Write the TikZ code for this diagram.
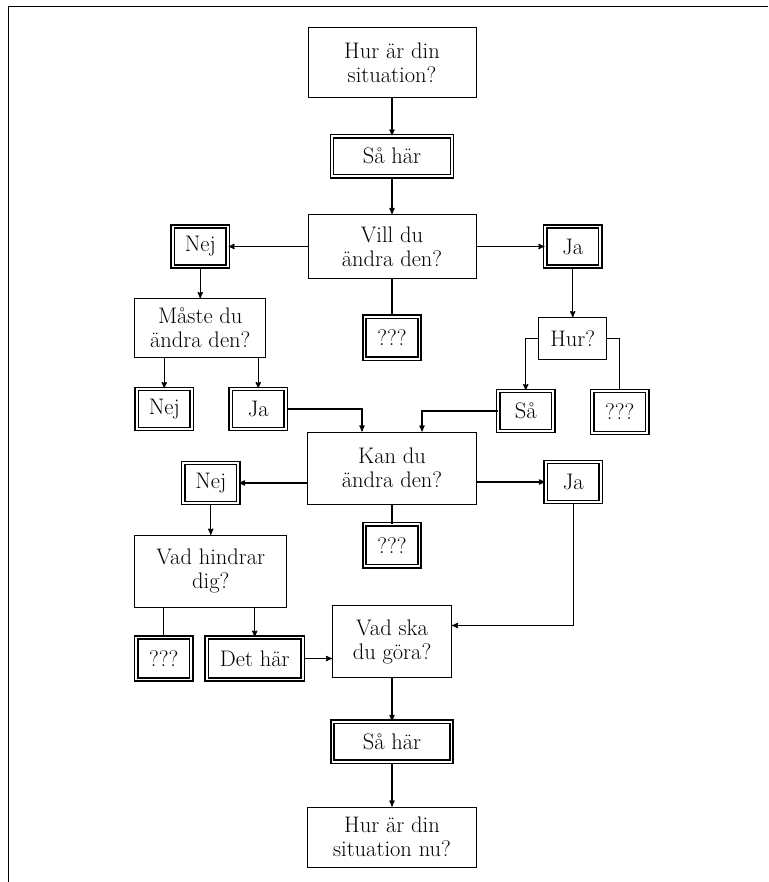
\documentclass[tikz,border=0pt]{standalone}
\usepackage{fontspec}
\usepackage{tikz}
\usetikzlibrary{arrows,calc,positioning}

\begin{document}
\begin{tikzpicture}[>=stealth', semithick, x=1pt, y=-1pt, line width=1.2pt]

    \tikzstyle{fraga} = [rectangle, draw=black, line width=1pt, minimum width=168pt, minimum height=64pt, inner sep=2pt, align=center, font=\fontsize{22.5}{24}\selectfont]
    \tikzstyle{svar} = [rectangle, draw=black, double, double distance=1.8pt, line width=1.5pt, minimum width=55pt, minimum height=40pt, inner sep=2pt, font=\fontsize{22.5}{24}\selectfont]

    \useasboundingbox (0,0) rectangle (768,882);
    \draw[line width=1pt] (768,7) -- (8,7) -- (8,882);

    \node (hur)         [fraga, minimum height=70pt] at (392,63)        {Hur är din\\situation?};
    \node (saahar1)     [svar, minimum width=120pt, below=37pt of hur]  {Så här};
    \node (vill)        [fraga, below=37pt of saahar1]                  {Vill du\\ändra den?};
    \node (nej1)        [svar, left=79pt of vill]                       {Nej};
    \node (ja1)         [svar, right=68pt of vill]                      {Ja};
    \node (fraga1)      [svar, minimum height=42pt, below=37pt of vill] {???};

    \node (maste)       [fraga, minimum width=131pt, minimum height=59pt, below=31pt of nej1] {Måste du\\ändra den?};
    \node (nej2)        [svar, below=30pt of maste, xshift=-36pt]       {Nej};
    \node (ja2)         [svar, below=30pt of maste, xshift=58pt]        {Ja};

    \node (hurfraga)    [fraga, minimum width=68pt, minimum height=42pt, below=50pt of ja1] {Hur?};
    \node (saa)         [svar, below=30pt of hurfraga, xshift=-47pt]    {Så};
    \node (fraga2)      [svar, minimum height=42pt, below=30pt of hurfraga, xshift=47pt] {???};

    \node (kan)         [fraga, minimum width=169pt, minimum height=72pt, below=72pt of fraga1] {Kan du\\ändra den?};
    \node (nej3)        [svar, left=68pt of kan, yshift=-15pt]          {Nej};
    \node (ja3)         [svar, right=68pt of kan, yshift=-14pt]         {Ja};
    \node (fraga3)      [svar, minimum height=42pt, below=19pt of kan]  {???};

    \node (hindrar)     [fraga, minimum width=152pt, minimum height=72pt, below=31pt of nej3] {Vad hindrar\\dig?};
    \node (fraga4)      [svar, minimum height=42pt, below=29pt of hindrar, xshift=-47pt] {???};
    \node (dethar)      [svar, minimum width=96pt, minimum height=42pt, below=29pt of hindrar, xshift=44pt] {Det här};

    \node (vadska)      [fraga, minimum width=119pt, minimum height=72pt, below=38pt of fraga3] {Vad ska\\du göra?};
    \node (saahar2)     [svar, minimum width=119pt, below=43pt of vadska] {Så här};
    \node (hurnu)       [fraga, minimum width=169pt, minimum height=60pt, below=44pt of saahar2] {Hur är din\\situation nu?};

    % top part
    \path[->]  (hur)       edge  (saahar1);
    \path[->]  (saahar1)   edge  (vill);
    \path[->]  (vill)      edge  (nej1);
    \path[->]  (vill)      edge  (ja1);
    \path[-]   (vill)      edge  (fraga1);
    \path[->]  (nej1)      edge  (maste);
    \path[->]  (ja1)       edge  (hurfraga);
    \draw[->]  (maste.south -| nej2) -- (nej2);
    \draw[->]  (maste.south -| ja2) -- (ja2);
    \draw[->]  (hurfraga) -| (saa);
    \draw      (hurfraga) -| (fraga2);

    % into "kan du"
    \draw[->]  (ja2) -| ($(kan.north)+(-30,0)$);
    \draw[->]  (saa) -| ($(kan.north)+(30,0)$);
    \draw[->]  (kan.west |- nej3) -- (nej3);
    \draw[->]  (kan.east |- ja3) -- (ja3);
    \path[-]   (kan)       edge  (fraga3);

    % bottom part
    \path[->]  (nej3)      edge  (hindrar);
    \draw      (hindrar.south -| fraga4) -- (fraga4);
    \draw[->]  (hindrar.south -| dethar) -- (dethar);
    \draw[->]  (dethar) -- (vadska.west |- dethar);
    \draw[->]  (ja3) |- ($(vadska.east)+(0,-16)$);
    \path[->]  (vadska)    edge  (saahar2);
    \path[->]  (saahar2)   edge  (hurnu);
\end{tikzpicture}
\end{document}
